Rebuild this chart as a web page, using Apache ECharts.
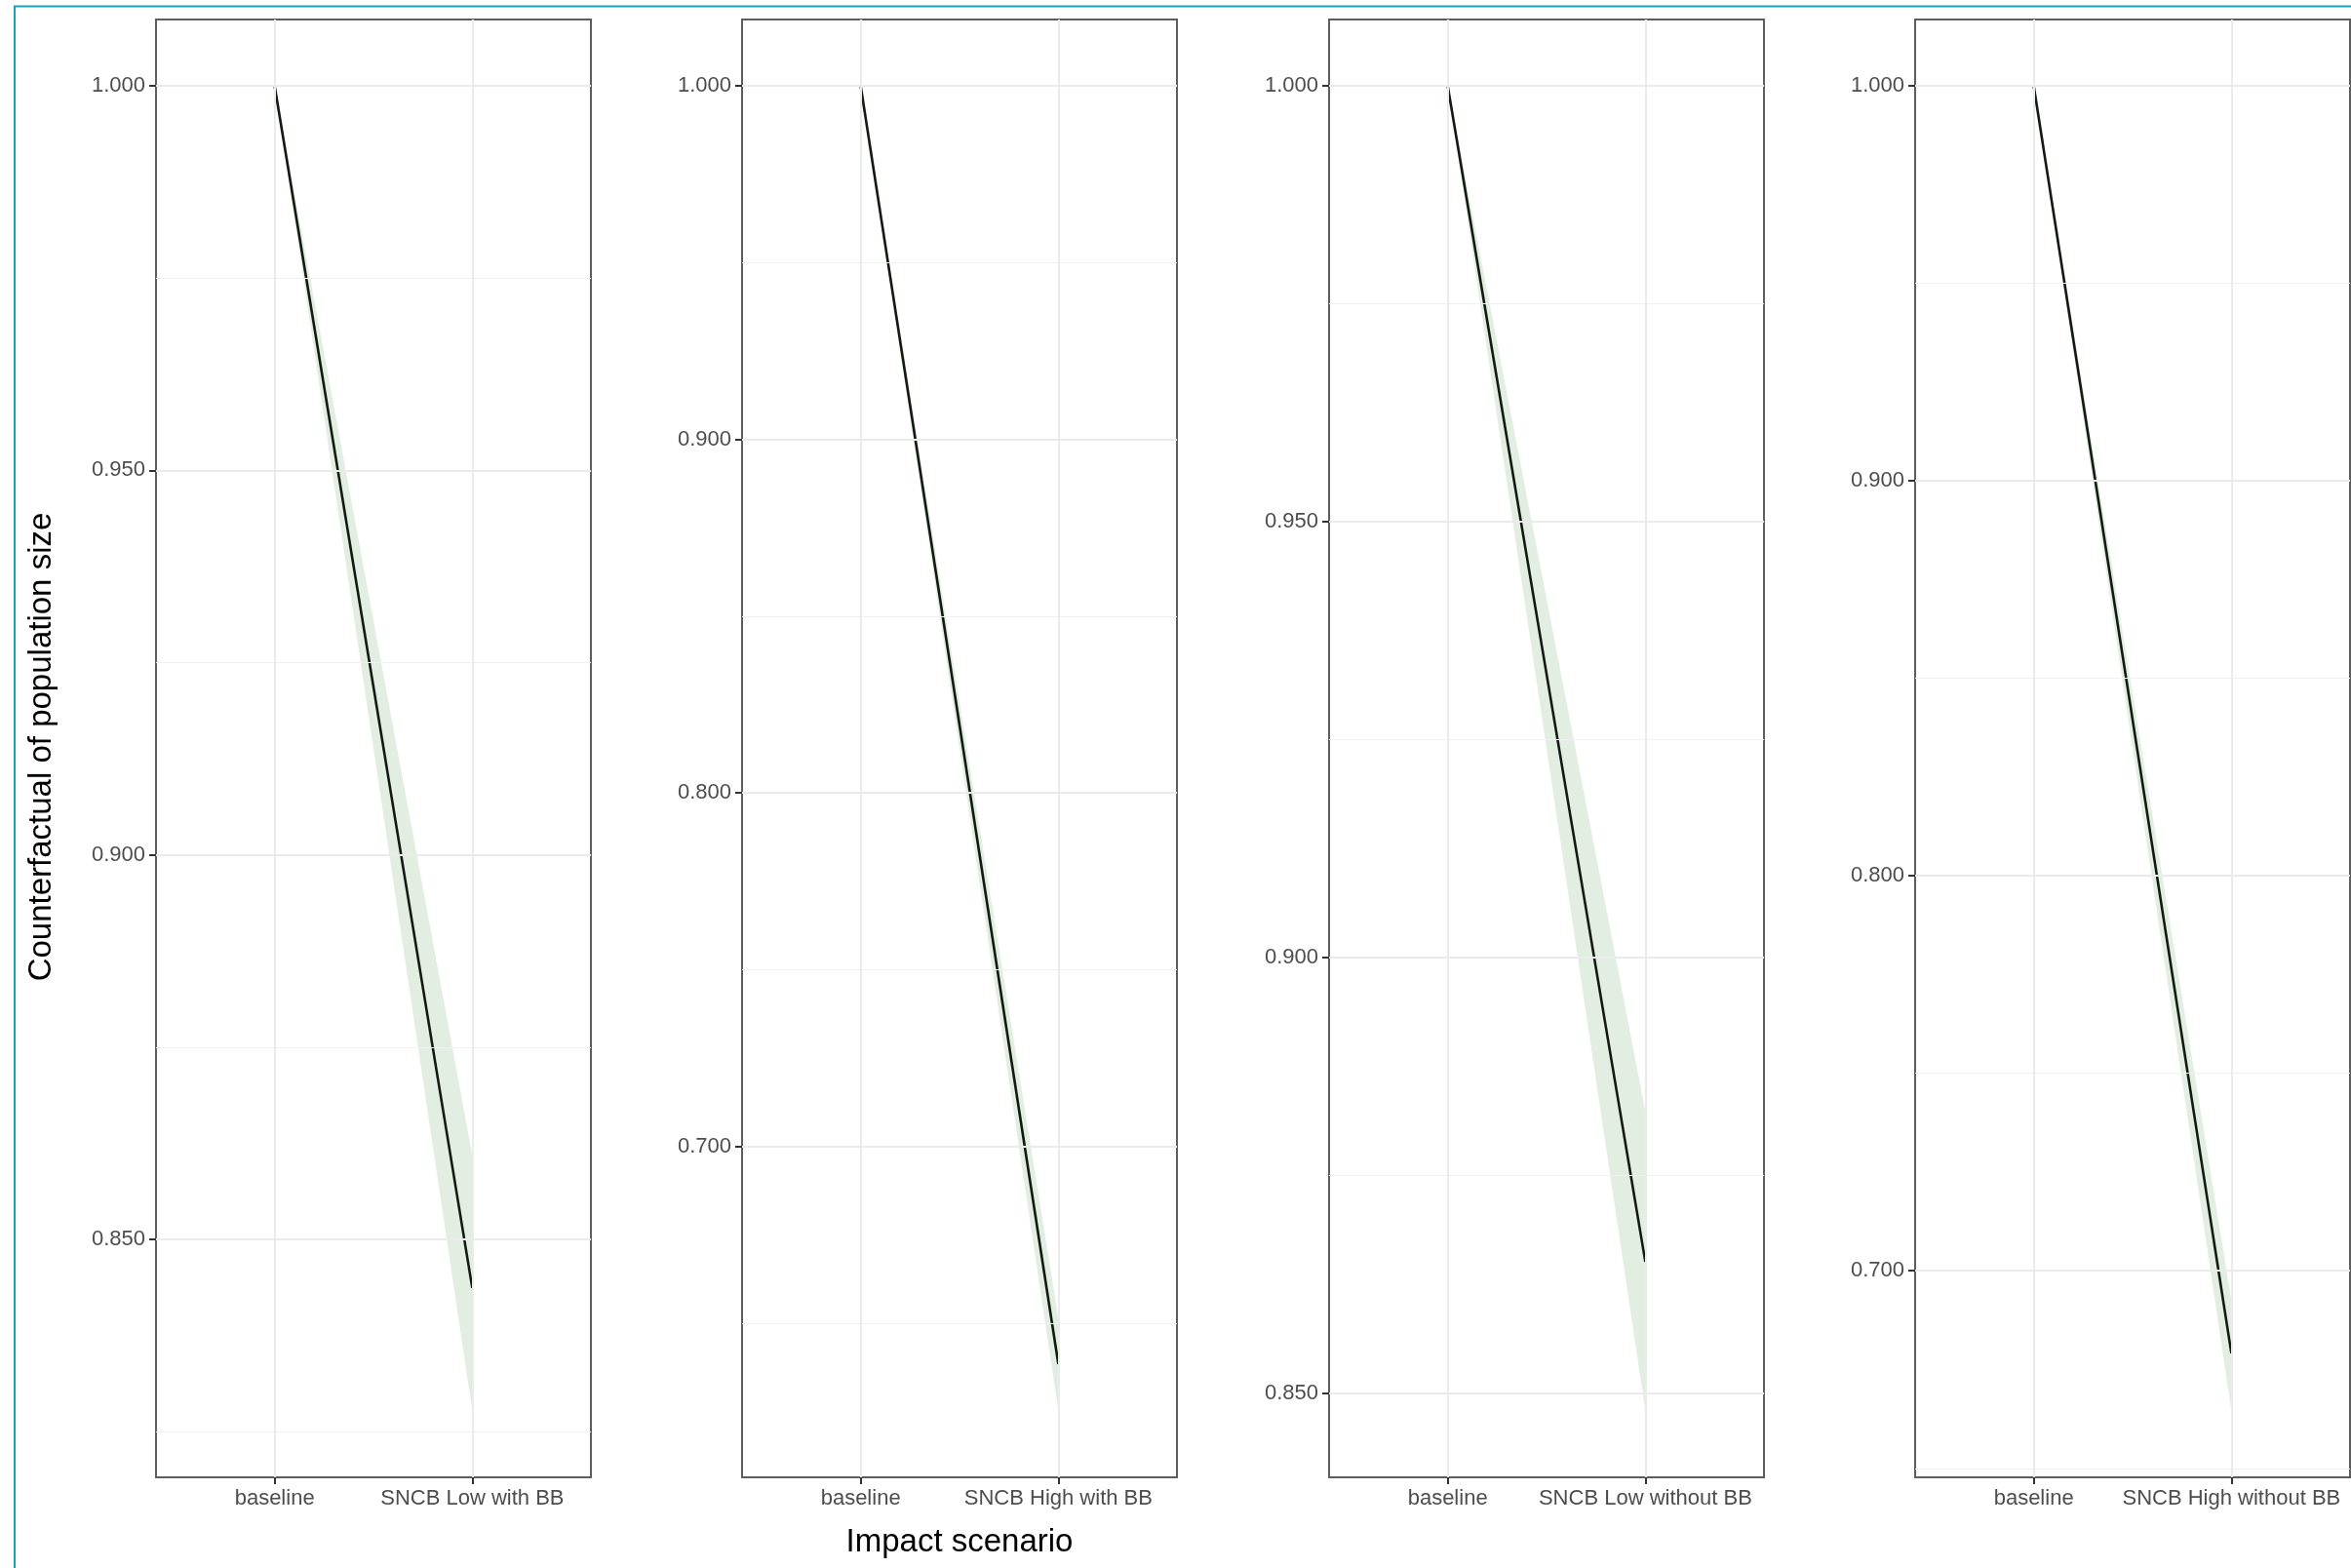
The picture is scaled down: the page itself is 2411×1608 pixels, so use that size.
<!DOCTYPE html>
<html>
<head>
<meta charset="utf-8">
<script src="https://cdn.jsdelivr.net/npm/echarts@6/dist/echarts.min.js"></script>
<style>
  html, body { margin: 0; padding: 0; background: #ffffff; }
  #chart { width: 2411px; height: 1608px; }
</style>
</head>
<body>
<div id="chart"></div>
<script>
// Counterfactual population size: baseline vs. each SNCB impact scenario
const baselineName = 'baseline';
const scenarioNames = ['SNCB Low with BB', 'SNCB High with BB', 'SNCB Low without BB', 'SNCB High without BB'];
const baselineValue = 1.0;
const meanValues  = [0.8437, 0.6385, 0.8651, 0.6791];
const lowerValues = [0.8277, 0.6252, 0.8480, 0.6645];
const upperValues = [0.8610, 0.6515, 0.8824, 0.6926];

// y tick labels (major) and minor grid values per panel
const majorTicks = [
  [0.850, 0.900, 0.950, 1.000],
  [0.700, 0.800, 0.900, 1.000],
  [0.850, 0.900, 0.950, 1.000],
  [0.700, 0.800, 0.900, 1.000]
];
const minorTicks = [
  [0.825, 0.875, 0.925, 0.975],
  [0.650, 0.750, 0.850, 0.950],
  [0.875, 0.925, 0.975],
  [0.650, 0.750, 0.850, 0.950]
];
const xTitle = 'Impact scenario';
const yTitle = 'Counterfactual of population size';

// layout
const FONT = 'Liberation Sans, Arial, sans-serif';
const panelLefts = [160, 761, 1363, 1964];
const panelWidth = 446;
const panelTop = 20;
const panelHeight = 1495;
const ribbonColor = 'rgba(40,120,40,0.13)';
const lineColor = '#121a12';
const majorGrid = { color: '#ebebeb', width: 2, type: 'solid' };
const minorGrid = { color: '#f1f1f1', width: 1.2, type: 'solid' };

const grids = [], xAxes = [], yAxes = [], series = [];

scenarioNames.forEach(function (name, i) {
  const cats = [baselineName, name];
  const positions = [1, 2];
  // y range padded by 5% of the data span
  const lo = Math.min(lowerValues[i], baselineValue);
  const hi = Math.max(upperValues[i], baselineValue);
  const pad = (hi - lo) * 0.05;

  grids.push({
    left: panelLefts[i], top: panelTop, width: panelWidth, height: panelHeight,
    show: true, borderColor: '#5e5e5e', borderWidth: 2, backgroundColor: 'transparent'
  });

  xAxes.push({
    type: 'value', gridIndex: i, min: 0.4, max: 2.6,
    axisLine: { show: false },
    axisTick: { show: true, length: 7, lineStyle: { color: '#333333', width: 2 }, customValues: positions },
    axisLabel: {
      customValues: positions, margin: 11, fontSize: 22, color: '#4d4d4d', fontFamily: FONT,
      formatter: function (v) { return cats[Math.round(v) - 1]; }
    },
    splitLine: { show: false }
  });

  yAxes.push({
    type: 'value', gridIndex: i, min: lo - pad, max: hi + pad,
    axisLine: { show: false },
    axisTick: { show: true, length: 7, lineStyle: { color: '#333333', width: 2 }, customValues: majorTicks[i] },
    axisLabel: {
      customValues: majorTicks[i], margin: 11, fontSize: 22, color: '#4d4d4d', fontFamily: FONT,
      formatter: function (v) { return v.toFixed(3); }
    },
    splitLine: { show: false }
  });

  // panel grid lines
  const gridLines = []
    .concat(minorTicks[i].map(function (v) { return { yAxis: v, lineStyle: minorGrid }; }))
    .concat(majorTicks[i].map(function (v) { return { yAxis: v, lineStyle: majorGrid }; }))
    .concat(positions.map(function (p) { return { xAxis: p, lineStyle: majorGrid }; }));

  series.push({
    type: 'line', xAxisIndex: i, yAxisIndex: i, z: 1, silent: true,
    data: [[1, baselineValue], [2, meanValues[i]]],
    symbol: 'none', lineStyle: { opacity: 0 },
    markLine: { silent: true, symbol: 'none', precision: 6, label: { show: false }, data: gridLines, animation: false }
  });

  // uncertainty ribbon
  series.push({
    type: 'custom', xAxisIndex: i, yAxisIndex: i, z: 2, silent: true,
    encode: { x: 0, y: [1, 2] },
    data: [[1, baselineValue, baselineValue], [2, lowerValues[i], upperValues[i]]],
    renderItem: function (params, api) {
      const j = params.dataIndexInside;
      if (j === 0) return null;
      const pts = [
        api.coord([api.value(0, j - 1), api.value(1, j - 1)]),
        api.coord([api.value(0, j), api.value(1, j)]),
        api.coord([api.value(0, j), api.value(2, j)]),
        api.coord([api.value(0, j - 1), api.value(2, j - 1)])
      ];
      return { type: 'polygon', shape: { points: pts }, style: { fill: ribbonColor } };
    }
  });

  // mean trajectory
  series.push({
    type: 'line', xAxisIndex: i, yAxisIndex: i, z: 3, silent: true,
    data: [[1, baselineValue], [2, meanValues[i]]],
    symbol: 'none', lineStyle: { color: lineColor, width: 2.6 },
    emphasis: { disabled: true }
  });
});

const chart = echarts.init(document.getElementById('chart'), null, { renderer: 'canvas' });
chart.setOption({
  backgroundColor: '#ffffff',
  animation: false,
  grid: grids,
  xAxis: xAxes,
  yAxis: yAxes,
  series: series,
  graphic: [
    {
      type: 'rect', silent: true, z: 100,
      shape: { x: 15, y: 6.5, width: 2700, height: 1900 },
      style: { fill: 'none', stroke: '#17a2b8', lineWidth: 2 }
    },
    {
      type: 'text', x: 43, y: 766, rotation: Math.PI / 2,
      style: { text: yTitle, fontSize: 33, fontFamily: FONT, fill: '#000000', align: 'center', verticalAlign: 'middle' }
    },
    {
      type: 'text', x: 984, y: 1582,
      style: { text: xTitle, fontSize: 33, fontFamily: FONT, fill: '#000000', align: 'center', verticalAlign: 'middle' }
    }
  ]
});
</script>
</body>
</html>
